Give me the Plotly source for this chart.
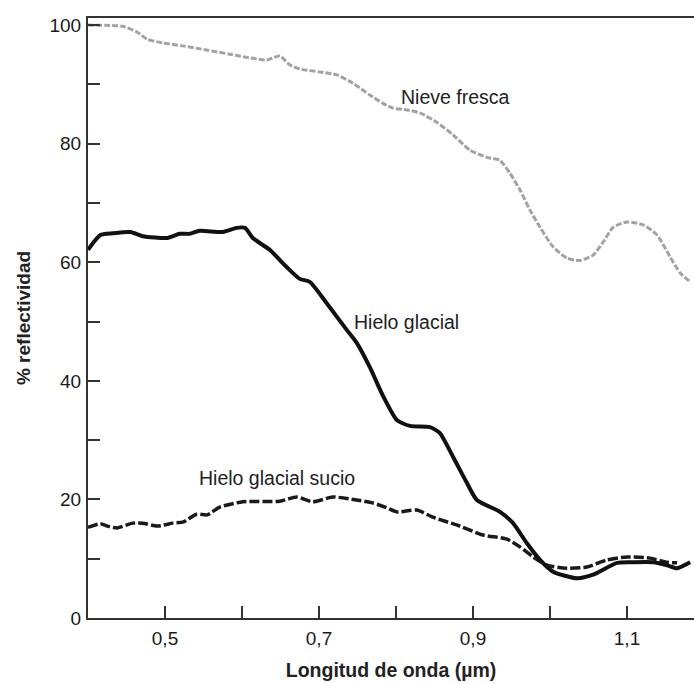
import plotly.graph_objects as go

# Nieve fresca
nieve_x = [0.400, 0.445, 0.464, 0.477, 0.497, 0.523, 0.554, 0.584, 0.614, 0.632, 0.649, 0.662,
           0.675, 0.701, 0.723, 0.744, 0.766, 0.783, 0.796, 0.814, 0.831, 0.853, 0.874, 0.896,
           0.918, 0.935, 0.948, 0.961, 0.974, 0.987, 1.004, 1.022, 1.039, 1.056, 1.069, 1.082,
           1.100, 1.121, 1.139, 1.156, 1.169, 1.182]
nieve_y = [100.0, 99.8, 98.8, 97.6, 97.0, 96.5, 95.8, 95.1, 94.4, 94.1, 94.8, 93.3,
           92.6, 92.1, 91.6, 90.2, 88.2, 86.8, 86.0, 85.7, 85.2, 83.6, 81.5, 78.9,
           77.7, 77.2, 75.0, 72.2, 68.8, 65.9, 62.6, 60.7, 60.3, 61.2, 63.4, 65.9,
           66.8, 66.3, 64.6, 60.9, 58.2, 56.7]

# Hielo glacial
hielo_x = [0.400, 0.416, 0.432, 0.455, 0.471, 0.503, 0.519, 0.532, 0.545, 0.575, 0.593, 0.604,
           0.614, 0.636, 0.658, 0.675, 0.688, 0.710, 0.736, 0.749, 0.766, 0.783, 0.801, 0.818,
           0.844, 0.857, 0.874, 0.892, 0.905, 0.935, 0.952, 0.970, 0.987, 1.004, 1.035, 1.056,
           1.087, 1.108, 1.134, 1.152, 1.165, 1.182]
hielo_y = [62.1, 64.6, 64.9, 65.1, 64.4, 64.1, 64.8, 64.8, 65.3, 65.1, 65.8, 65.8,
           64.1, 62.1, 59.2, 57.2, 56.7, 53.1, 48.6, 46.4, 42.3, 37.5, 33.4, 32.4,
           32.2, 31.2, 27.2, 22.8, 19.9, 17.9, 16.0, 12.6, 9.8, 7.8, 6.7, 7.3,
           9.3, 9.4, 9.4, 8.9, 8.4, 9.4]

# Hielo glacial sucio
sucio_x = [0.400, 0.416, 0.425, 0.438, 0.458, 0.471, 0.490, 0.510, 0.524, 0.541, 0.555, 0.571,
           0.601, 0.649, 0.671, 0.692, 0.718, 0.749, 0.770, 0.788, 0.801, 0.827, 0.848, 0.883,
           0.913, 0.944, 0.961, 0.978, 0.996, 1.022, 1.048, 1.074, 1.100, 1.130, 1.152, 1.165]
sucio_y = [15.3, 15.9, 15.5, 15.2, 16.0, 16.0, 15.5, 16.0, 16.2, 17.5, 17.4, 18.7,
           19.6, 19.7, 20.4, 19.6, 20.4, 19.9, 19.4, 18.6, 17.9, 18.2, 17.0, 15.5,
           14.0, 13.3, 12.0, 10.3, 8.9, 8.4, 8.6, 9.8, 10.3, 10.1, 9.4, 9.3]

x_tickvals = [0.5, 0.7, 0.9, 1.1]
x_ticktext = ["0,5", "0,7", "0,9", "1,1"]
y_tickvals = [0, 20, 40, 60, 80, 100]
y_ticktext = ["0", "20", "40", "60", "80", "100"]

labels = ["Nieve fresca", "Hielo glacial", "Hielo glacial sucio"]
label_x = [0.877, 0.814, 0.645]
label_y = [87.9, 49.9, 23.6]

FONT = "Liberation Sans, Arial, sans-serif"

fig = go.Figure()
fig.add_trace(go.Scatter(x=nieve_x, y=nieve_y, mode="lines", line=dict(color="#a3a3a3", width=3, dash="6px,2px", shape="spline", smoothing=0.6), showlegend=False))
fig.add_trace(go.Scatter(x=sucio_x, y=sucio_y, mode="lines", line=dict(color="#1a1a1a", width=3.5, dash="10px,3px", shape="spline", smoothing=0.6), showlegend=False))
fig.add_trace(go.Scatter(x=hielo_x, y=hielo_y, mode="lines", line=dict(color="#111111", width=4, shape="spline", smoothing=0.6), showlegend=False))

for t, ax, ay in zip(labels, label_x, label_y):
    fig.add_annotation(x=ax, y=ay, text=t, showarrow=False, font=dict(family=FONT, size=19.5, color="#222"))

fig.update_layout(
    width=694, height=683,
    margin=dict(l=88, r=0, t=18, b=65),
    paper_bgcolor="white", plot_bgcolor="white",
    font=dict(family=FONT, color="#222"),
    xaxis=dict(
        range=[0.4, 1.187], showgrid=False, zeroline=False,
        showline=True, linecolor="#333", linewidth=2, mirror=True,
        tickmode="array", tickvals=x_tickvals, ticktext=x_ticktext,
        ticks="inside", ticklen=12, tickwidth=1.5, tickcolor="#333",
        minor=dict(tickvals=[0.6, 0.8, 1.0], ticks="inside", ticklen=12, tickwidth=1.5, tickcolor="#333"),
        tickfont=dict(family=FONT, size=19, color="#1a1a1a"),
        ticklabelstandoff=2,
        title=dict(text="<b>Longitud de onda (µm)</b>", font=dict(family=FONT, size=19.5, color="#222"), standoff=16),
    ),
    yaxis=dict(
        range=[0, 101.2], showgrid=False, zeroline=False,
        showline=True, linecolor="#333", linewidth=2,
        tickmode="array", tickvals=y_tickvals, ticktext=y_ticktext,
        ticks="inside", ticklen=12, tickwidth=1.5, tickcolor="#333",
        minor=dict(tickvals=[10, 30, 50, 70, 90], ticks="inside", ticklen=12, tickwidth=1.5, tickcolor="#333"),
        tickfont=dict(family=FONT, size=19, color="#1a1a1a"),
        ticklabelstandoff=1,
        title=dict(text="<b>% reflectividad</b>", font=dict(family=FONT, size=19, color="#222"), standoff=14),
    ),
)

fig.write_html("out.html")
